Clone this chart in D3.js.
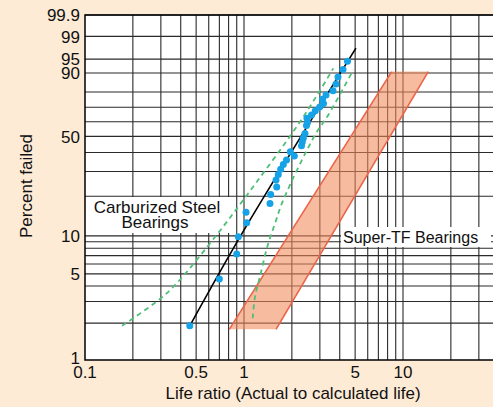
<!DOCTYPE html>
<html>
<head>
<meta charset="utf-8">
<script src="https://cdnjs.cloudflare.com/ajax/libs/d3/7.8.5/d3.min.js"></script>
<style>
    body { margin: 0; background: #fdebd6; }
    #chart { width: 493px; height: 407px; overflow: hidden; }
    svg text { font-family: "Liberation Sans", Arial, sans-serif; fill: #111; }
</style>
</head>
<body>
<div id="chart"></div>
<script>
/* * * * * * * * * * * * * *
*      Weibull plot        *
* * * * * * * * * * * * * */

// carburized steel bearings: life ratio and percent failed for each point
const carbLife = [0.456, 0.70, 0.90, 0.921, 1.04, 1.03, 1.457, 1.472, 1.606, 1.59, 1.643, 1.701,
    1.767, 1.851, 1.956, 2.072, 2.299, 2.326, 2.36, 2.419, 2.472, 2.508, 2.49, 2.658,
    2.808, 2.993, 3.162, 3.117, 3.28, 3.628, 3.79, 3.90, 4.195, 4.476];
const carbFailed = [1.9, 4.55, 7.2, 9.86, 12.65, 15.2, 17.7, 20.6, 23.4, 26.2, 28.6, 31.1,
    33.5, 35.8, 40.5, 38.0, 44.1, 46.4, 48.8, 51.9, 57.4, 59.4, 62.4, 64.7,
    67.6, 70.2, 72.5, 75.3, 78.1, 80.7, 84.6, 88.2, 91.5, 94.4];

// fitted line
const fitLife = [0.456, 1.0, 5.06];
const fitFailed = [1.9, 11.1, 97.5];

// confidence bounds (green dashed)
const upperLife = [0.171, 0.296, 0.379, 0.674, 0.99, 2.145, 2.933, 3.643];
const upperFailed = [1.9, 3.14, 4.23, 10.2, 18.8, 56.5, 79.2, 91.9];
const lowerLife = [1.134, 1.173, 1.26, 1.401, 1.567, 1.767, 2.796, 3.39, 4.87];
const lowerFailed = [2.19, 3.28, 4.75, 8.23, 12.5, 18.8, 50.9, 64.7, 91.3];

// Super-TF band: corners at bottom and top
const bandFailed = [1.78, 90.6];
const bandLeftLife = [0.808, 8.49];
const bandRightLife = [1.59, 14.42];

// axes
const yGridValues = [2, 3, 4, 5, 6, 7, 8, 9, 10, 20, 30, 40, 50, 60, 70, 80, 90, 95, 99, 99.9];
const yTickLabels = [1, 5, 10, 50, 90, 95, 99, 99.9];
const xTickLabels = [0.1, 0.5, 1, 5, 10];

class WeibullChart {
    constructor(parentElement) {
        this.parentElement = parentElement;
        this.initVis();
    }

    initVis() {
        let vis = this;

        vis.width = 493;
        vis.height = 407;
        vis.margin = {top: 15, left: 85, bottom: 47};

        vis.svg = d3.select("#" + vis.parentElement).append("svg")
            .attr("width", vis.width)
            .attr("height", vis.height);

        // log x axis, 159px per decade, runs past the right edge
        vis.x = d3.scaleLog()
            .domain([0.1, 100])
            .range([vis.margin.left, vis.margin.left + 159 * 3]);

        // weibull probability axis: ln(-ln(1-F))
        vis.w = p => Math.log(-Math.log(1 - p / 100));
        vis.yLin = d3.scaleLinear()
            .domain([vis.w(1), vis.w(99.9)])
            .range([vis.height - vis.margin.bottom, vis.margin.top]);
        vis.y = p => vis.yLin(vis.w(p));

        vis.updateVis();
    }

    updateVis() {
        let vis = this;
        let x0 = vis.x.range()[0], x1 = vis.x.range()[1];
        let y0 = vis.y(1), y1 = vis.y(99.9);

        // plot background
        vis.svg.append("rect")
            .attr("x", x0).attr("y", y1)
            .attr("width", x1 - x0).attr("height", y0 - y1)
            .attr("fill", "#fff");

        // grid
        vis.svg.append("g").selectAll("line")
            .data(vis.x.ticks().filter(d => d > 0.1))
            .enter().append("line")
            .attr("x1", d => vis.x(d)).attr("x2", d => vis.x(d))
            .attr("y1", y1).attr("y2", y0)
            .attr("stroke", "#2a2a2a")
            .attr("stroke-width", 1.1);

        vis.svg.append("g").selectAll("line")
            .data(yGridValues)
            .enter().append("line")
            .attr("x1", x0).attr("x2", x1)
            .attr("y1", d => vis.y(d)).attr("y2", d => vis.y(d))
            .attr("stroke", "#2a2a2a")
            .attr("stroke-width", 1.1);

        // frame
        vis.svg.append("path")
            .attr("d", `M${x1},${y1}H${x0}V${y0}H${x1}`)
            .attr("fill", "none")
            .attr("stroke", "#000")
            .attr("stroke-width", 1.5);

        // Super-TF band
        let bandPts = [
            [bandLeftLife[0], bandFailed[0]], [bandRightLife[0], bandFailed[0]],
            [bandRightLife[1], bandFailed[1]], [bandLeftLife[1], bandFailed[1]]
        ];
        vis.svg.append("polygon")
            .attr("points", bandPts.map(d => [vis.x(d[0]), vis.y(d[1])].join(",")).join(" "))
            .attr("fill", "#f2895a")
            .attr("fill-opacity", 0.58);

        [bandLeftLife, bandRightLife].forEach(side => {
            vis.svg.append("line")
                .attr("x1", vis.x(side[0])).attr("y1", vis.y(bandFailed[0]))
                .attr("x2", vis.x(side[1])).attr("y2", vis.y(bandFailed[1]))
                .attr("stroke", "#ea6449")
                .attr("stroke-width", 1.6);
        });

        // label boxes
        vis.svg.append("rect")
            .attr("x", x0 + 1).attr("y", 197)
            .attr("width", 147).attr("height", 36)
            .attr("fill", "#fff");
        vis.svg.append("rect")
            .attr("x", 341).attr("y", 227)
            .attr("width", 150).attr("height", 20)
            .attr("fill", "#fff");

        vis.svg.append("text")
            .attr("x", 157).attr("y", 213)
            .attr("text-anchor", "middle")
            .style("font-size", "17px")
            .text("Carburized Steel");
        vis.svg.append("text")
            .attr("x", 155).attr("y", 228)
            .attr("text-anchor", "middle")
            .style("font-size", "17px")
            .text("Bearings");
        vis.svg.append("text")
            .attr("x", 343).attr("y", 243)
            .style("font-size", "16px")
            .text("Super-TF Bearings");

        // confidence bounds
        let line = d3.line()
            .x(d => vis.x(d[0]))
            .y(d => vis.y(d[1]))
            .curve(d3.curveCatmullRom);

        [[upperLife, upperFailed], [lowerLife, lowerFailed]].forEach(b => {
            vis.svg.append("path")
                .datum(d3.zip(b[0], b[1]))
                .attr("d", line)
                .attr("fill", "none")
                .attr("stroke", "#4fbf78")
                .attr("stroke-width", 1.8)
                .attr("stroke-dasharray", "5,4");
        });

        // fitted line
        vis.svg.append("path")
            .datum(d3.zip(fitLife, fitFailed))
            .attr("d", line)
            .attr("fill", "none")
            .attr("stroke", "#000")
            .attr("stroke-width", 1.6);

        // points
        vis.svg.append("g").selectAll("circle")
            .data(d3.zip(carbLife, carbFailed))
            .enter().append("circle")
            .attr("cx", d => vis.x(d[0]))
            .attr("cy", d => vis.y(d[1]))
            .attr("r", 3.5)
            .attr("fill", "#16a2e6");

        // tick labels
        vis.svg.append("g").selectAll("text")
            .data(yTickLabels)
            .enter().append("text")
            .attr("x", 80)
            .attr("y", d => vis.y(d) - (d === 1 ? 2 : 0))
            .attr("dy", "0.36em")
            .attr("text-anchor", "end")
            .style("font-size", "17px")
            .text(d => d);

        vis.svg.append("g").selectAll("text")
            .data(xTickLabels)
            .enter().append("text")
            .attr("x", d => vis.x(d))
            .attr("y", 378)
            .attr("text-anchor", "middle")
            .style("font-size", "17px")
            .text(d => d);

        // axis titles
        vis.svg.append("text")
            .attr("x", 293).attr("y", 399)
            .attr("text-anchor", "middle")
            .style("font-size", "17px")
            .text("Life ratio (Actual to calculated life)");

        vis.svg.append("text")
            .attr("transform", "translate(32,186) rotate(-90)")
            .attr("text-anchor", "middle")
            .style("font-size", "17px")
            .text("Percent failed");
    }
}

new WeibullChart("chart");
</script>
</body>
</html>
